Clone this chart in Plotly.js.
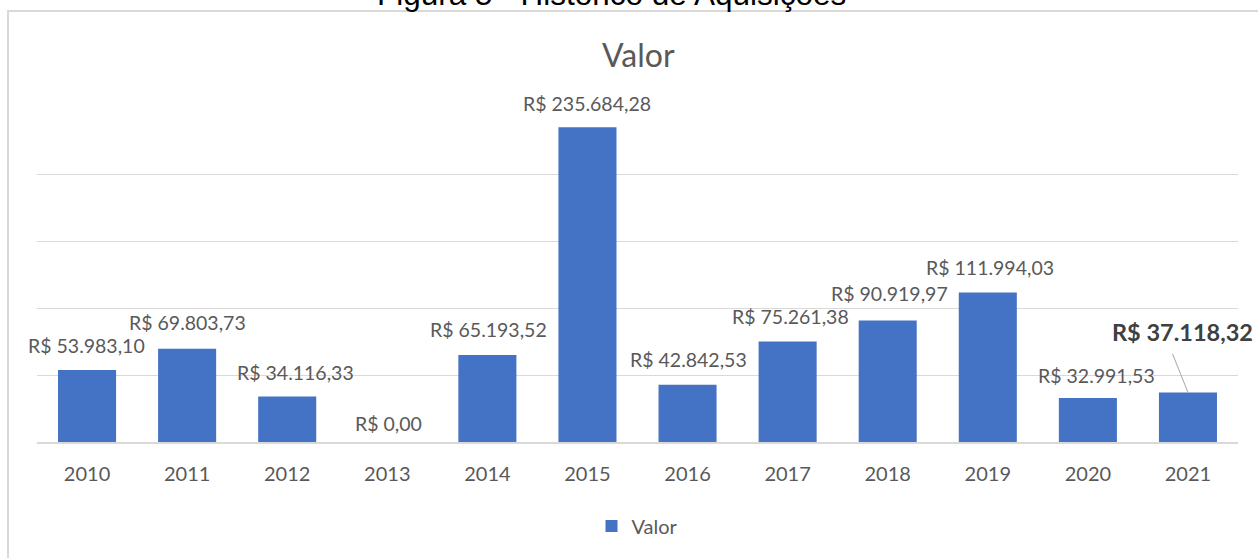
<!DOCTYPE html>
<html>
<head>
<meta charset="utf-8">
<script src="https://cdn.plot.ly/plotly-3.0.1.min.js"></script>
<style>
html,body{margin:0;padding:0;background:#fff;}
#chart{width:1258px;height:558px;}
</style>
</head>
<body>
<div id="chart"></div>
<script>
const years = ['2010','2011','2012','2013','2014','2015','2016','2017','2018','2019','2020','2021'];
const values = [53983.10, 69803.73, 34116.33, 0, 65193.52, 235684.28, 42842.53, 75261.38, 90919.97, 111994.03, 32991.53, 37118.32];
const seriesName = 'Valor';
const chartTitle = 'Valor';
const figureCaption = 'Figura 5 - Histórico de Aquisições';
const highlightIndex = 11;

// label placement (pixel offsets: [xshift, yshift above bar top])
const labelOffsets = [[-1,24],[0,26],[8,24],[1,19],[1,25],[0,24],[1,25],[3,25],[2,27],[2,25],[9,22],[-5,60]];

function fmtBRL(v){
  const fixed = v.toFixed(2);
  let [ip, dp] = fixed.split('.');
  ip = ip.replace(/\B(?=(\d{3})+(?!\d))/g, '.');
  return 'R$ ' + ip + ',' + dp;
}

const FONT = 'Lato, "Open Sans", sans-serif';
const GRAY = '#595959';

const annotations = [];
values.forEach((v, i) => {
  const hl = i === highlightIndex;
  annotations.push({
    x: i, y: v, xref: 'x', yref: 'y',
    text: hl ? '<b>' + fmtBRL(v) + '</b>' : fmtBRL(v),
    showarrow: false, xanchor: 'center', yanchor: 'middle',
    xshift: labelOffsets[i][0], yshift: labelOffsets[i][1],
    font: {family: FONT, size: hl ? 23.5 : 19.5, color: hl ? '#404040' : GRAY}
  });
});
// leader line for highlighted label
annotations.push({
  x: highlightIndex, y: values[highlightIndex], xref: 'x', yref: 'y',
  text: '', showarrow: true, arrowhead: 0, arrowwidth: 1, arrowcolor: '#a6a6a6',
  ax: -16, ay: -40, standoff: 0
});
// chart title
annotations.push({
  x: 0.5012, y: (442 - 55) / 334, xref: 'paper', yref: 'paper',
  text: chartTitle, showarrow: false, xanchor: 'center', yanchor: 'middle',
  font: {family: FONT, size: 32, color: GRAY}
});
// clipped figure caption at top
annotations.push({
  x: 0.4784, y: (442 - 14) / 334, xref: 'paper', yref: 'paper',
  text: figureCaption, showarrow: false, xanchor: 'center', yanchor: 'bottom',
  font: {family: '"Liberation Sans", Arial, sans-serif', size: 31.5, color: '#000000'}
});

const trace = {
  type: 'bar', x: years, y: values, name: seriesName,
  marker: {color: '#4472C4'},
  hoverinfo: 'none'
};

const layout = {
  width: 1258, height: 558,
  margin: {l: 37, r: 20, t: 108, b: 116},
  paper_bgcolor: '#ffffff', plot_bgcolor: '#ffffff',
  bargap: 0.42,
  showlegend: true,
  legend: {orientation: 'h', x: 0.5, xanchor: 'center', y: (442 - 526) / 334, yanchor: 'middle',
           font: {family: FONT, size: 20, color: GRAY}, itemwidth: 30},
  xaxis: {type: 'category', range: [-0.5, 11.5], showline: true, linecolor: '#d9d9d9', linewidth: 2,
          ticks: '', ticklabelstandoff: 13, tickfont: {family: FONT, size: 20, color: GRAY}, showgrid: false},
  yaxis: {range: [0, 250000], tick0: 0, dtick: 50000, showgrid: true, gridcolor: '#d9d9d9', gridwidth: 1,
          showticklabels: false, zeroline: false, showline: false, ticks: '', fixedrange: true},
  annotations: annotations,
  shapes: [{
    type: 'rect', xref: 'paper', yref: 'paper', layer: 'above',
    x0: (8 - 37) / 1201, x1: (1270 - 37) / 1201,
    y0: (442 - 570) / 334, y1: (442 - 11) / 334,
    line: {color: '#d9d9d9', width: 2}, fillcolor: 'rgba(0,0,0,0)'
  }]
};

Plotly.newPlot('chart', [trace], layout, {displayModeBar: false, staticPlot: true});
</script>
</body>
</html>
